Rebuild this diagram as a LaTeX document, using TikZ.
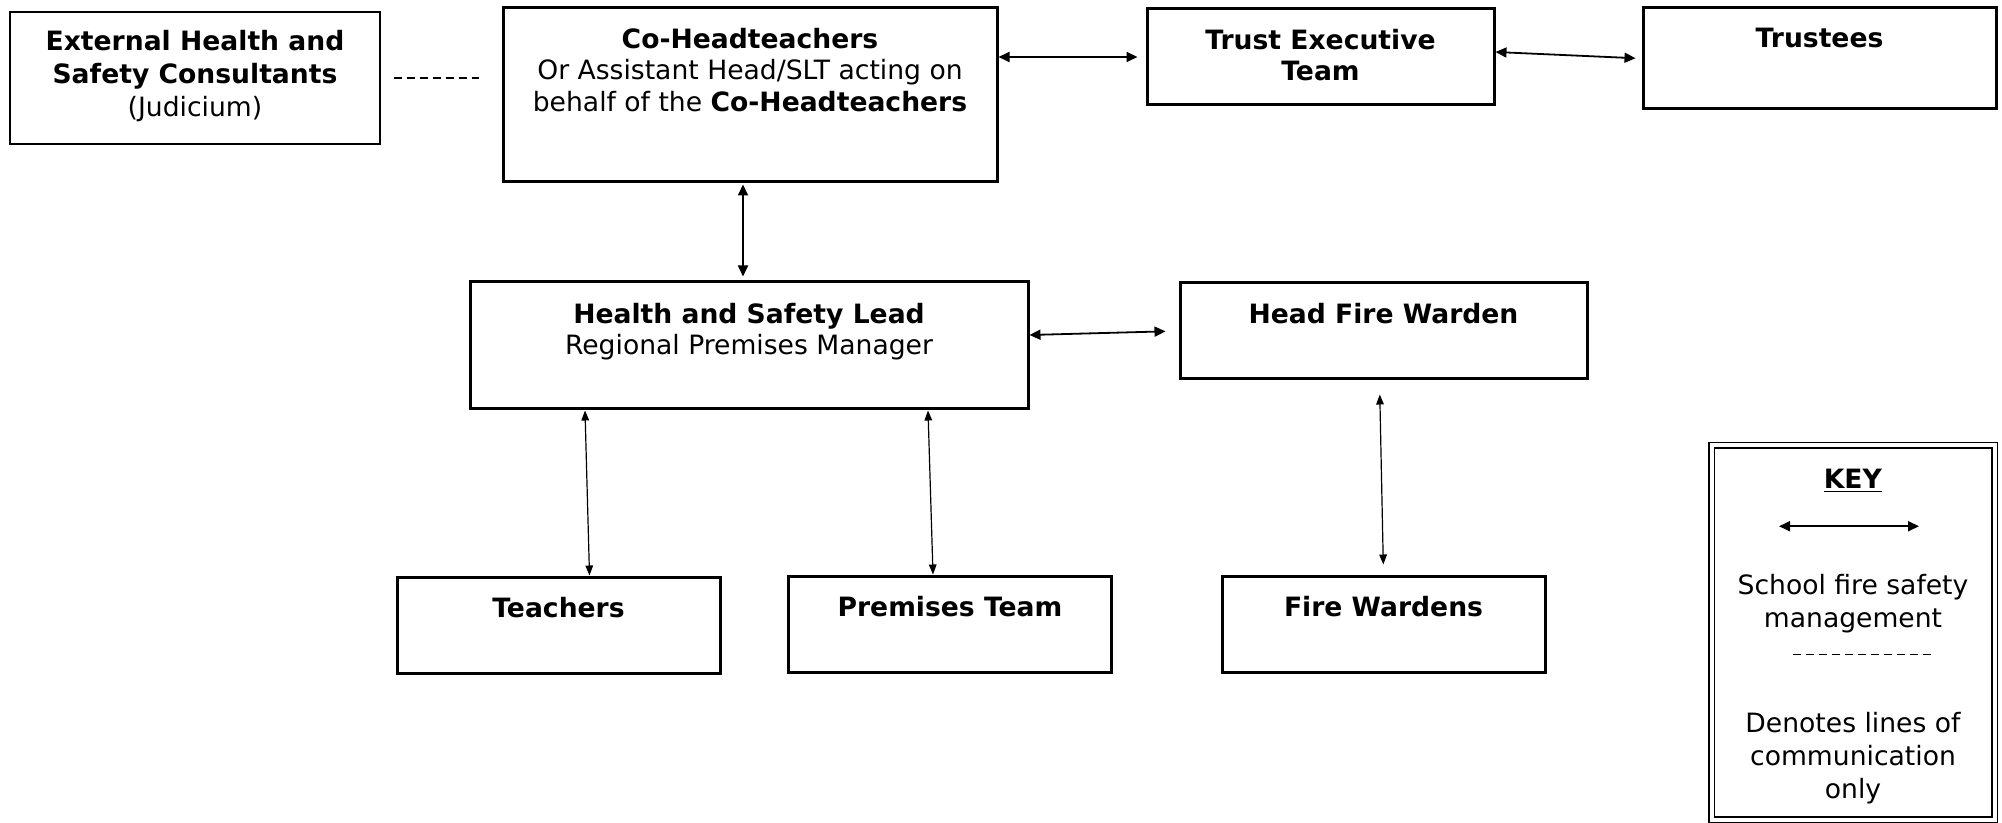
\documentclass[tikz,border=0pt]{standalone}
\usepackage{fontspec}
\setmainfont{DejaVu Sans}
\usetikzlibrary{calc,positioning,arrows.meta}

\begin{document}
\begin{tikzpicture}[x=0.5pt,y=-0.5pt,
  box/.style={draw,line width=1.5pt,inner sep=0pt},
  thinbox/.style={draw,line width=0.7pt,inner sep=0pt},
  boxtext/.style={inner sep=0pt,align=center,font=\fontsize{13.3}{15.9}\selectfont},
  keytext/.style={boxtext,font=\fontsize{13.3}{16.6}\selectfont},
  both/.style={{Triangle[length=5.5pt,width=5pt]}-{Triangle[length=5.5pt,width=5pt]},line width=0.9pt},
  thinboth/.style={{Triangle[length=5pt,width=3.8pt]}-{Triangle[length=5pt,width=3.8pt]},line width=0.6pt},
  commline/.style={line width=0.6pt,dash pattern=on 4pt off 2.5pt}]
  \useasboundingbox (0,0) rectangle (2002,823);

  %% Top row of boxes
  \node[thinbox,minimum width=185pt,minimum height=66pt] (EXT) at (195,78) {};
  \node[boxtext,font=\fontsize{13.3}{16.4}\selectfont,below=9.5pt of EXT.north] (EXT-t)
    {\textbf{External Health and}\\\textbf{Safety Consultants}\\(Judicium)};
  \node[box,minimum width=247pt,minimum height=87pt] (CHEAD) at (750,95) {};
  \node[boxtext,below=10.5pt of CHEAD.north] (CHEAD-t)
    {\textbf{Co-Headteachers}\\Or Assistant Head/SLT acting on\\behalf of the \textbf{Co-Headteachers}};
  \node[box,minimum width=173.5pt,minimum height=48pt] (TRUST) at (1320.5,57) {};
  \node[boxtext,below=10.5pt of TRUST.north] (TRUST-t) {\textbf{Trust Executive}\\\textbf{Team}};
  \node[box,minimum width=176.5pt,minimum height=50.5pt] (TRUSTEES) at (1819.5,58.5) {};
  \node[boxtext,below=10.5pt of TRUSTEES.north] (TRUSTEES-t) {\textbf{Trustees}};

  %% Middle row
  \node[box,minimum width=279pt,minimum height=63.5pt] (HSL) at (749,345.5) {};
  \node[boxtext,below=11pt of HSL.north] (HSL-t)
    {\textbf{Health and Safety Lead}\\Regional Premises Manager};
  \node[box,minimum width=203.5pt,minimum height=48pt] (HFW) at (1383.5,331) {};
  \node[boxtext,below=10.5pt of HFW.north] (HFW-t) {\textbf{Head Fire Warden}};

  %% Bottom row
  \foreach \name/\x/\y/\txt in {TEACH/558.5/625/Teachers,PREM/950/624/Premises Team,FW/1383.5/624/Fire Wardens}
  {
    \node[box,minimum width=161.5pt,minimum height=48pt] (\name) at (\x,\y) {};
    \node[boxtext,below=10.5pt of \name.north] (\name-t) {\textbf{\txt}};
  }

  %% Lines between the boxes
  \draw[commline,shorten <=6.5pt,shorten >=11.5pt] (EXT.east) -- (EXT.east -| CHEAD.west);
  \draw[both,shorten >=4pt] (CHEAD.east |- TRUST.west) -- (TRUST.west);
  \draw[both,shorten >=3pt] ([yshift=2.5pt]TRUST.east) -- (TRUSTEES.west);
  \draw[both,shorten <=0.5pt,shorten >=2pt] ([xshift=-3.5pt]CHEAD.south) -- ([xshift=-3pt]HSL.north);
  \draw[both,shorten >=6.5pt] ([yshift=5.25pt]HSL.east) -- (HFW.west);
  \draw[thinboth] ([xshift=-82pt]HSL.south) -- ([xshift=15.5pt]TEACH.north);
  \draw[thinboth] ([xshift=89.5pt]HSL.south) -- ([xshift=-8.5pt]PREM.north);
  \draw[thinboth,shorten <=7pt,shorten >=5pt] ([xshift=-2pt]HFW.south) -- (FW.north);

  %% Key
  \node[draw,double,line width=0.75pt,double distance=2pt,inner sep=0pt,
    minimum width=141.5pt,minimum height=187pt] (KEY) at (1853,632.5) {};
  \node[keytext,below=12pt of KEY.north] (KEY-t) {\underline{\textbf{KEY}}};
  \coordinate (KA) at ($(KEY.north)+(-74,81.5)$);
  \coordinate (KB) at ($(KEY.north)+(66,81.5)$);
  \draw[both] (KA) -- (KB);
  \node[keytext,below=64.5pt of KEY.north] (KEY-a) {School fire safety\\management};
  \coordinate (KC) at ($(KEY.north)+(-60,209.5)$);
  \coordinate (KD) at ($(KEY.north)+(81,209.5)$);
  \draw[commline] (KC) -- (KD);
  \node[keytext,below=133.5pt of KEY.north] (KEY-b) {Denotes lines of\\communication\\only};

\end{tikzpicture}
\end{document}
